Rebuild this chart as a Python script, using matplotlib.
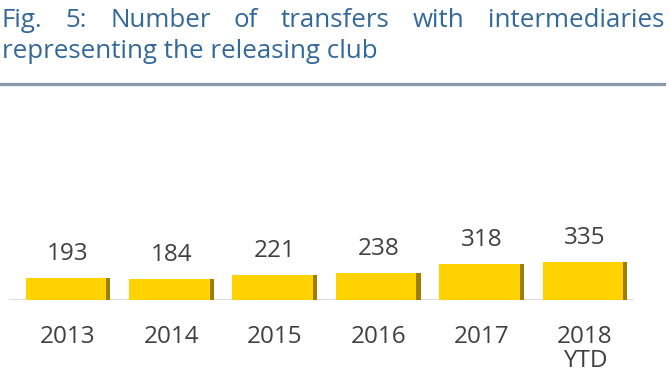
import matplotlib
matplotlib.use("Agg")
import matplotlib.pyplot as plt

years = ["2013", "2014", "2015", "2016", "2017", "2018\nYTD"]
values = [193, 184, 221, 238, 318, 335]
title_line1 = "Fig. 5: Number of transfers with intermediaries"
title_line2 = "representing the releasing club"

plt.rcParams["font.family"] = ["Open Sans", "DejaVu Sans"]

W, H = 670, 374
fig = plt.figure(figsize=(W / 100, H / 100), dpi=100)
fig.patch.set_facecolor("white")

ax = fig.add_axes([0, (H - 300) / H, 1, 190 / H])
ax.set_xlim(-68 / 103.4, (W - 68) / 103.4)
ax.set_ylim(0, 1680)
for s in ax.spines.values():
    s.set_visible(False)
ax.set_yticks([])

xs = list(range(len(values)))
bw = 0.82
gold = "#FFD200"
edge = "#9C7E00"
ax.bar(xs, values, width=bw, color=gold, zorder=3)
ew = 0.04
ax.bar([x + bw / 2 - ew / 2 for x in xs], values, width=ew, color=edge, zorder=4)
ax.axhline(0, xmin=10 / W, xmax=632 / W, color="#d8d8d8", lw=2, zorder=2)

txt_color = "#404040"
fs = 17.5
for x, v in zip(xs, values):
    ax.annotate(str(v), (x, v), xytext=(0, 13), textcoords="offset points",
                ha="center", va="baseline", fontsize=fs, color=txt_color)

ax.set_xticks(xs)
ax.set_xticklabels(years, fontsize=fs, color=txt_color, linespacing=1.02)
ax.tick_params(axis="x", length=0, pad=18)

# justified title
title_color = "#33689A"
left_px, right_px = 2, 664
fig.canvas.draw()
r = fig.canvas.get_renderer()
probe = fig.text(0, 0, title_line2, fontsize=18, color=title_color, fontweight="medium")
w2 = probe.get_window_extent(r).width
fs_title = 18 * 375 / w2
probe.remove()

words = title_line1.split(" ")
txts = [fig.text(0, 1 - 27 / H, w, fontsize=fs_title, color=title_color,
                 fontweight="medium", va="baseline", ha="left") for w in words]
fig.canvas.draw()
widths = [t.get_window_extent(r).width for t in txts]
gap = (right_px - left_px - sum(widths)) / (len(words) - 1)
xpos = left_px
for t, wd in zip(txts, widths):
    t.set_x(xpos / W)
    xpos += wd + gap

fig.text(left_px / W, 1 - 58 / H, title_line2, fontsize=fs_title, color=title_color,
         fontweight="medium", va="baseline", ha="left")

fig.add_artist(plt.Line2D([0, 664 / W], [1 - 83.5 / H, 1 - 83.5 / H], color="#8A98A8", lw=2.3))

fig.savefig("out.png", dpi=100, facecolor="white")
